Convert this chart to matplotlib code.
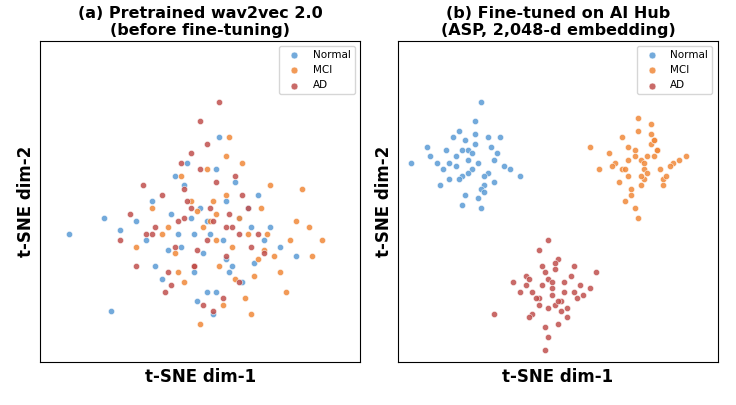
import matplotlib.pyplot as plt

colors = {"Normal": "#5b9bd5", "MCI": "#f0883a", "AD": "#c0504d"}
labels = ["Normal", "MCI", "AD"]

# panel (a): pretrained, classes overlap
a_normal_x = [53,40,62,48,70,35,58,45,66,52,30,75,55,43,60,50,38,68,57,47,9,25,80,54,46,63,41,58,51,36,72,49,56,44,65,33,59,52,22,61,48,55,42,67,20]
a_normal_y = [40,35,45,28,38,50,32,55,42,22,44,36,60,40,30,48,26,52,38,45,40,41,33,15,62,25,46,50,34,30,42,19,70,36,48,38,28,44,16,56,40,22,58,31,45]
a_mci_x = [55,62,48,70,58,40,75,65,52,45,80,68,57,35,72,60,50,84,63,42,77,55,67,47,88,59,38,73,53,64,30,82,56,69,44,61,51,78,66,49,58,71,43,85,54]
a_mci_y = [38,45,30,35,52,42,28,40,60,25,44,32,18,48,55,36,12,42,62,34,22,46,27,50,38,70,40,33,44,20,36,54,30,48,58,26,42,38,15,47,64,40,28,33,50]
a_ad_x = [45,52,38,60,48,55,42,65,35,50,58,28,62,46,54,40,68,32,57,44,49,36,63,51,25,59,47,70,41,53,56,33,61,48,43,66,39,50,58,45,30,54,62,47,52]
a_ad_y = [45,38,52,42,30,56,36,48,40,60,33,46,25,50,44,28,40,55,20,62,35,42,52,18,38,46,65,34,24,48,81,40,58,30,44,36,22,75,42,54,30,16,40,48,68]

# panel (b): fine-tuned, three separated clusters
b_normal_x = [14,18,20,22,25,27,30,17,21,24,28,31,12,16,19,23,26,29,33,15,20,22,24,27,10,13,18,21,25,28,35,19,23,26,30,16,22,24,20,27,4,9,32,38,26]
b_normal_y = [60,64,58,66,62,55,63,70,52,68,59,65,62,57,72,60,54,67,61,66,49,63,75,58,64,55,61,69,51,70,60,57,65,48,56,62,59,71,66,53,62,67,70,58,81]
b_mci_x = [68,72,74,77,80,83,70,73,76,79,82,86,66,69,75,78,81,85,71,74,77,80,63,88,72,76,79,67,84,75,73,78,70,81,74,77,60,90,76,79,72,83,75,71,80]
b_mci_y = [62,58,66,60,64,57,70,54,63,68,60,62,65,56,72,59,66,61,50,64,57,69,60,63,67,55,71,61,58,76,52,64,60,66,48,62,67,64,58,74,63,55,45,60,69]
b_ad_x = [40,44,46,49,52,55,42,45,48,51,54,58,38,41,47,50,53,57,43,46,49,36,60,44,48,51,40,55,47,45,50,42,53,47,30,62,48,44,52,46,49,41,56,47,50]
b_ad_y = [24,20,28,18,25,22,15,30,23,19,27,21,22,14,26,32,17,24,20,11,29,25,23,35,21,16,27,30,8,24,19,22,14,38,15,28,25,18,22,4,31,26,20,17,12]

panels = [
    ("(a) Pretrained wav2vec 2.0\n(before fine-tuning)",
     [(a_normal_x, a_normal_y), (a_mci_x, a_mci_y), (a_ad_x, a_ad_y)]),
    ("(b) Fine-tuned on AI Hub\n(ASP, 2,048-d embedding)",
     [(b_normal_x, b_normal_y), (b_mci_x, b_mci_y), (b_ad_x, b_ad_y)]),
]

fig, axes = plt.subplots(1, 2, figsize=(7.36, 4.05), dpi=100)

for ax, (title, series) in zip(axes, panels):
    for name, (xs, ys) in zip(labels, series):
        ax.scatter(xs, ys, s=20, c=colors[name], alpha=0.85,
                   edgecolors="white", linewidths=0.4, label=name)
    ax.set_xlim(0, 100)
    ax.set_ylim(0, 100)
    ax.set_xticks([])
    ax.set_yticks([])
    ax.set_title(title, fontsize=11.5, fontweight="bold", pad=4)
    ax.set_xlabel("t-SNE dim-1", fontsize=12, fontweight="bold")
    ax.set_ylabel("t-SNE dim-2", fontsize=12, fontweight="bold")
    ax.legend(loc="upper right", fontsize=7.5, markerscale=1.1)

plt.subplots_adjust(left=0.055, right=0.975, bottom=0.105, top=0.9, wspace=0.12)
plt.savefig("out.png")
plt.close()
